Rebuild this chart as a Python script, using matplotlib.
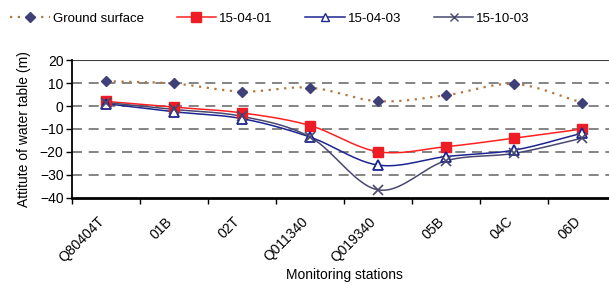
import numpy as np
import matplotlib.pyplot as plt
from matplotlib.lines import Line2D

stations = ["Q80404T", "01B", "02T", "Q011340", "Q019340", "05B", "04C", "06D"]
ground = [10.8, 9.8, 6.3, 8.0, 2.1, 4.7, 9.6, 1.5]
s150401 = [2.0, -0.5, -3.0, -8.5, -19.9, -17.7, -14.0, -10.0]
s150403 = [1.0, -2.5, -5.5, -13.5, -25.7, -22.0, -19.2, -11.8]
s151003 = [1.5, -1.5, -4.5, -13.5, -36.5, -23.8, -20.6, -14.0]


def smooth(y, n=20):
    # catmull-rom style smoothing like the excel "smoothed line" option
    y = np.asarray(y, float)
    x = np.arange(len(y), dtype=float)
    px = np.concatenate([[2 * x[0] - x[1]], x, [2 * x[-1] - x[-2]]])
    py = np.concatenate([[2 * y[0] - y[1]], y, [2 * y[-1] - y[-2]]])
    xs, ys = [], []
    t = np.linspace(0, 1, n, endpoint=False)
    for i in range(1, len(px) - 2):
        p0, p1, p2, p3 = py[i - 1], py[i], py[i + 1], py[i + 2]
        q0, q1, q2, q3 = px[i - 1], px[i], px[i + 1], px[i + 2]
        f = lambda a0, a1, a2, a3: 0.5 * (2 * a1 + (-a0 + a2) * t
                                          + (2 * a0 - 5 * a1 + 4 * a2 - a3) * t ** 2
                                          + (-a0 + 3 * a1 - 3 * a2 + a3) * t ** 3)
        xs.append(f(q0, q1, q2, q3))
        ys.append(f(p0, p1, p2, p3))
    xs.append([x[-1]])
    ys.append([y[-1]])
    return np.concatenate(xs), np.concatenate(ys)


plt.rcParams['font.family'] = ['Liberation Sans', 'DejaVu Sans']
fig = plt.figure(figsize=(6.09, 2.86), dpi=100)
ax = fig.add_axes([0.118, 0.308, 0.894, 0.482])

x = np.arange(len(stations))
for yv in [10, 0, -10, -20, -30]:
    ax.axhline(yv, color='#707070', lw=1.2, ls=(0, (6, 4)), zorder=1)
ax.axhline(20, color='#404040', lw=1.5, zorder=1)

sx, sy = smooth(ground)
ax.plot(sx, sy, color='#b07840', lw=1.6, ls=(0, (1, 2.5)), zorder=2)
ax.plot(x, ground, ls='none', marker='D', ms=5.5, color='#404078', zorder=5)

sx, sy = smooth(s150401)
ax.plot(sx, sy, color='#ff2020', lw=1.1, zorder=3)
ax.plot(x, s150401, ls='none', marker='s', ms=7, color='#ee1c25', zorder=5)

sx, sy = smooth(s150403)
ax.plot(sx, sy, color='#1c2590', lw=1.1, zorder=3)
ax.plot(x, s150403, ls='none', marker='^', ms=7, mfc='white', mec='#1c2590', mew=1.3, zorder=5)

sx, sy = smooth(s151003)
ax.plot(sx, sy, color='#484870', lw=1.1, zorder=3)
ax.plot(x, s151003, ls='none', marker='x', ms=7, mec='#484870', mew=1.2, zorder=6)

ax.set_xlim(-0.5, 7.5)
ax.set_ylim(-40, 20)
ax.set_yticks(range(-40, 21, 10))
ax.set_xticks(np.arange(-0.5, 7.6, 1), minor=False)
ax.set_xticklabels([])
# labels sit a little left of the category centre, as in the original
ax.set_xticks(x - 0.13, minor=True)
ax.set_xticklabels(stations, minor=True, rotation=45, ha='right', va='top',
                   rotation_mode='anchor', fontsize=10)
ax.tick_params(axis='x', which='minor', length=0, pad=12)
ax.tick_params(axis='x', which='major', length=4, width=1, direction='out')
ax.tick_params(axis='y', length=4, width=1, labelsize=10, pad=2)

for s in ['top', 'right']:
    ax.spines[s].set_visible(False)
ax.spines['left'].set_linewidth(1.3)
ax.spines['bottom'].set_linewidth(2)
ax.set_ylabel("Attitute of water table (m)", fontsize=10, labelpad=6)
ax.set_xlabel("Monitoring stations", fontsize=10, va='center')
ax.xaxis.set_label_coords(0.5, -0.558)

handles = [
    Line2D([], [], color='#b07840', lw=1.6, ls=(0, (1, 2.5)), marker='D', ms=5,
           mfc='#404078', mec='#404078'),
    Line2D([], [], color='#ff2020', lw=1.1, marker='s', ms=7, mfc='#ee1c25', mec='#ee1c25'),
    Line2D([], [], color='#1c2590', lw=1.1, marker='^', ms=6, mfc='white', mec='#1c2590'),
    Line2D([], [], color='#484870', lw=1.1, marker='x', ms=6, mec='#484870'),
]
fig.legend(handles, ["Ground surface", "15-04-01", "15-04-03", "15-10-03"],
           loc='center left', bbox_to_anchor=(0.004, 0.935), ncol=4, frameon=False,
           fontsize=9.5, handlelength=3.0, handletextpad=0.2, columnspacing=2.5,
           borderaxespad=0.2)

fig.savefig("out.png", dpi=100)
